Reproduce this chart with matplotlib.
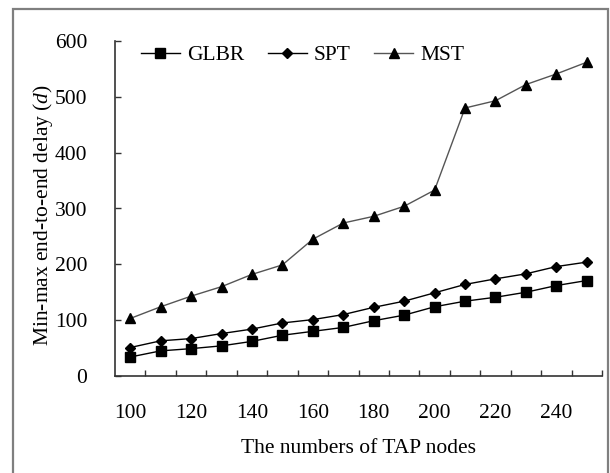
import numpy as np
import matplotlib
matplotlib.use("Agg")
import matplotlib.pyplot as plt
from matplotlib.patches import Rectangle

# values
nodes = [100, 110, 120, 130, 140, 150, 160, 170, 180, 190, 200, 210, 220, 230, 240, 250]
glbr = [34, 45, 49, 54, 62, 73, 80, 87, 99, 109, 124, 134, 141, 150, 162, 171]
spt = [51, 63, 67, 76, 84, 95, 101, 110, 123, 134, 149, 164, 174, 183, 196, 204]
mst = [103, 124, 143, 160, 182, 199, 245, 274, 286, 304, 333, 480, 493, 522, 541, 562]
y_ticks = [0, 100, 200, 300, 400, 500, 600]

plt.rcParams['font.family'] = ['Liberation Serif', 'DejaVu Serif']
plt.rcParams['mathtext.fontset'] = 'custom'
plt.rcParams['mathtext.it'] = 'Liberation Serif:italic'
plt.rcParams['mathtext.rm'] = 'Liberation Serif'

W, H = 610, 473
fig = plt.figure(figsize=(W / 100, H / 100), dpi=100)
ax = fig.add_axes([115 / W, 1 - 376 / H, 487 / W, 335 / H])

# outer frame (bottom edge runs off the image)
fig.patches.append(Rectangle((13 / W, -0.05), 595 / W, 1.05 - 9 / H,
                             transform=fig.transFigure, fill=False,
                             edgecolor='#7f7f7f', linewidth=1.6))

x = np.arange(len(nodes))
ax.plot(x, glbr, color='black', lw=1, marker='s', markersize=7, label='GLBR')
ax.plot(x, spt, color='black', lw=1, marker='D', markersize=5.5, label='SPT')
ax.plot(x, mst, color='#555555', lw=1, marker='^', markersize=7.5,
        markerfacecolor='black', markeredgecolor='black', label='MST')

ax.set_xlim(-0.5, len(nodes) - 0.5)
ax.set_ylim(0, 600)

# category axis: tick marks between categories, labels every other category
ax.set_xticks(x[::2])
ax.set_xticklabels([str(n) for n in nodes[::2]])
ax.set_xticks(np.arange(len(nodes)) + 0.5, minor=True)
ax.tick_params(axis='x', which='major', length=0, pad=20, labelsize=15.5)
ax.tick_params(axis='x', which='minor', direction='in', length=4, width=1, color='#333333')
ax.set_yticks(y_ticks)
ax.tick_params(axis='y', direction='in', length=4, width=1, color='#333333',
               pad=20, labelsize=15.5)

for s in ['top', 'right']:
    ax.spines[s].set_visible(False)
for s in ['left', 'bottom']:
    ax.spines[s].set_color('#333333')
    ax.spines[s].set_linewidth(1.2)

ax.set_xlabel('The numbers of TAP nodes', fontsize=15.5, va='center')
ax.xaxis.set_label_coords(0.5, (376 - 448) / 335)
ax.set_ylabel('Min-max end-to-end delay ($d$)', fontsize=15.5, va='center')
ax.yaxis.set_label_coords((43 - 115) / 487, (376 - 215) / 335)

ax.legend(loc='upper left', bbox_to_anchor=(141 / W, 1 - 45 / H),
          bbox_transform=fig.transFigure, ncol=3, frameon=False, fontsize=15.5,
          handlelength=1.8, handletextpad=0.33, columnspacing=1.1,
          borderpad=0, borderaxespad=0)

fig.savefig('out.png', dpi=100)
